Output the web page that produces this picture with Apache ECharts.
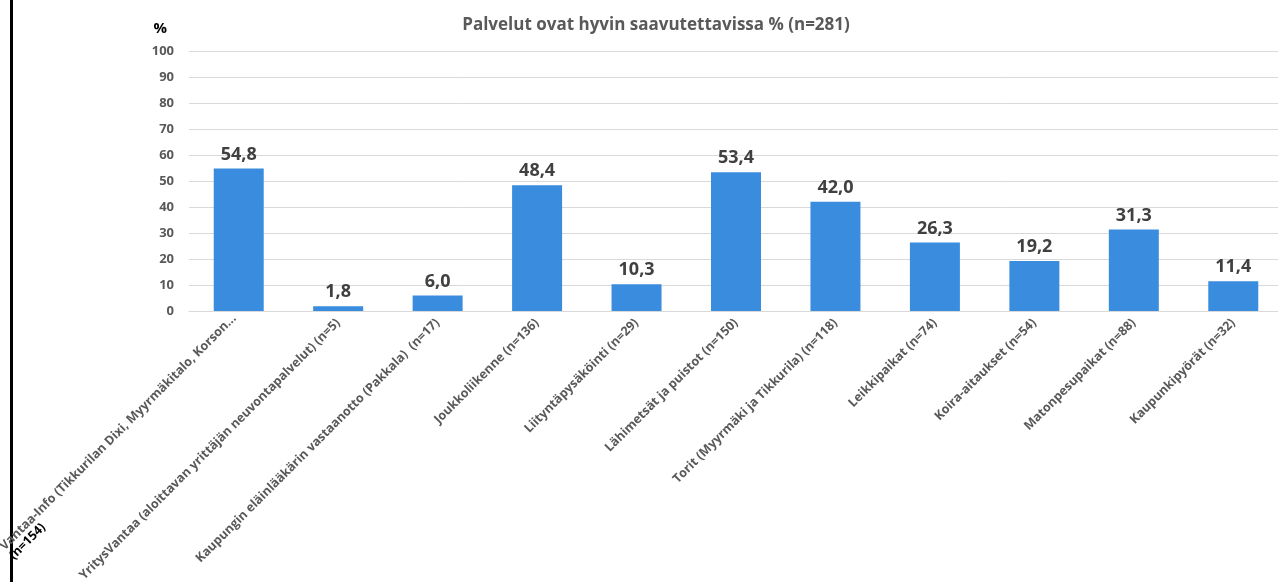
<!DOCTYPE html>
<html>
<head>
<meta charset="utf-8">
<script src="https://cdn.jsdelivr.net/npm/echarts@6/dist/echarts.min.js"></script>
<style>
    html, body { margin: 0; padding: 0; background: #fff; }
    #chart { width: 1278px; height: 582px; }
</style>
</head>
<body>
<div id="chart"></div>
<script>
// kategoriat ja arvot (%)
const categories = [
    'Vantaa-Info (Tikkurilan Dixi, Myyrmäkitalo, Korson...',
    'YritysVantaa (aloittavan yrittäjän neuvontapalvelut) (n=5)',
    'Kaupungin eläinlääkärin vastaanotto (Pakkala)  (n=17)',
    'Joukkoliikenne (n=136)',
    'Liityntäpysäköinti (n=29)',
    'Lähimetsät ja puistot (n=150)',
    'Torit (Myyrmäki ja Tikkurila) (n=118)',
    'Leikkipaikat (n=74)',
    'Koira-aitaukset (n=54)',
    'Matonpesupaikat (n=88)',
    'Kaupunkipyörät (n=32)'
]
const values = [54.8, 1.8, 6.0, 48.4, 10.3, 53.4, 42.0, 26.3, 19.2, 31.3, 11.4]
const yTicks = [0, 10, 20, 30, 40, 50, 60, 70, 80, 90, 100]

const fontFamily = '"Open Sans", "Noto Sans", sans-serif'
const grey = '#595959'

const myChart = echarts.init(document.getElementById('chart'))
const option = {
    animation: false,
    textStyle: { fontFamily },
    title: {
        text: 'Palvelut ovat hyvin saavutettavissa % (n=281)',
        left: 651,
        textAlign: 'center',
        top: 12,
        textStyle: {
            color: grey,
            fontSize: 17,
            fontWeight: 'bold',
            fontFamily
        }
    },
    // vasen musta reunaviiva
    graphic: [
        {
            type: 'rect',
            shape: { x: 10, y: 0, width: 3, height: 582 },
            style: { fill: '#000' }
        }
    ],
    grid: {
        left: 189,
        top: 51,
        width: 1094,
        height: 260,
        containLabel: false,
        outerBoundsMode: 'none'
    },
    xAxis: {
        type: 'category',
        data: categories,
        axisTick: { show: false },
        axisLine: { lineStyle: { color: '#d9d9d9', width: 1 } },
        axisLabel: {
            interval: 0,
            rotate: 45,
            margin: 10,
            color: grey,
            fontSize: 12.5,
            fontWeight: 'bold',
            fontFamily,
            formatter: (val, idx) => {
                if (idx === 0) {
                    return val + '\n{n|(n=154)}'
                }
                return val
            },
            rich: {
                n: {
                    color: '#000',
                    fontSize: 12.5,
                    fontWeight: 'bold',
                    align: 'left',
                    fontFamily
                }
            }
        }
    },
    yAxis: {
        type: 'value',
        min: yTicks[0],
        max: yTicks[yTicks.length - 1],
        interval: 10,
        name: '%',
        nameLocation: 'end',
        nameGap: 15,
        nameTextStyle: {
            color: '#000',
            fontSize: 15,
            fontWeight: 'bold',
            align: 'right',
            padding: [0, 22, 0, 0],
            fontFamily
        },
        axisLine: { show: false },
        axisTick: { show: false },
        axisLabel: {
            margin: 15,
            color: grey,
            fontSize: 13,
            fontWeight: 'bold',
            fontFamily
        },
        splitLine: { lineStyle: { color: '#d9d9d9', width: 1 } }
    },
    series: [
        {
            type: 'bar',
            data: values,
            barWidth: 50,
            itemStyle: { color: '#3A8DDE' },
            label: {
                show: true,
                position: 'top',
                distance: 5,
                color: '#404040',
                fontSize: 18,
                fontWeight: 'bold',
                fontFamily,
                formatter: (p) => p.value.toFixed(1).replace('.', ',')
            }
        }
    ]
}
myChart.setOption(option)
</script>
</body>
</html>
